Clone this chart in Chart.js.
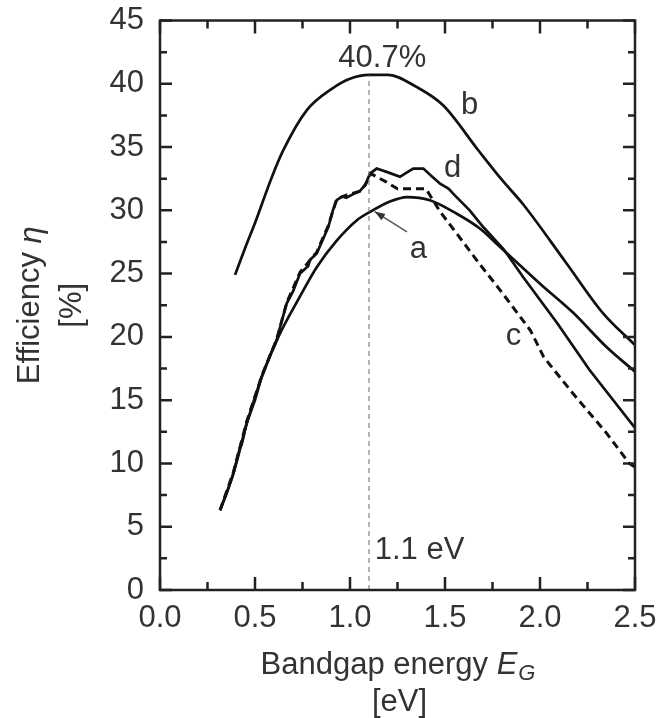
<!DOCTYPE html>
<html>
<head>
<meta charset="utf-8">
<script src="https://cdn.jsdelivr.net/npm/chart.js@4.4.1/dist/chart.umd.min.js"></script>
<style>
    html, body { margin: 0; padding: 0; background: #fff; }
    #wrap { width: 660px; height: 718px; }
</style>
</head>
<body>
<div id="wrap"><canvas id="chart"></canvas></div>
<script>
// Curve b: upper smooth curve, peak 40.7 % near 1.1 eV
const curveBX = [0.395, 0.45, 0.50, 0.588, 0.649, 0.772, 0.904, 1.00, 1.10, 1.20, 1.35, 1.49, 1.675, 1.80, 1.91, 2.14, 2.33, 2.50];
const curveBY = [24.9, 27.1, 29.0, 32.6, 34.75, 37.9, 39.6, 40.4, 40.7, 40.7, 39.75, 38.3, 34.75, 32.4, 30.5, 25.8, 21.9, 19.35];

// Curve a: lower smooth curve
const curveAX = [0.316, 0.386, 0.456, 0.535, 0.623, 0.737, 0.825, 0.93, 1.035, 1.12, 1.21, 1.30, 1.42, 1.56, 1.68, 1.79, 2.00, 2.175, 2.35, 2.50];
const curveAY = [6.3, 9.2, 13.1, 16.8, 20.0, 23.2, 25.5, 27.6, 29.2, 30.0, 30.7, 31.05, 30.8, 29.75, 28.6, 27.1, 24.2, 21.9, 19.2, 17.25];

// Curve d: jagged solid curve
const curveDX = [0.316, 0.35, 0.386, 0.42, 0.43, 0.456, 0.50, 0.535, 0.575, 0.614, 0.64, 0.667, 0.70, 0.737, 0.78, 0.79, 0.825, 0.86, 0.886, 0.91, 0.93, 0.96, 0.98, 1.02, 1.05, 1.08, 1.105, 1.14, 1.20, 1.263, 1.30, 1.333, 1.386, 1.43, 1.474, 1.52, 1.544, 1.63, 1.70, 1.81, 1.91, 2.09, 2.26, 2.50];
const curveDY = [6.3, 7.6, 9.2, 11.2, 11.5, 13.2, 15.0, 16.85, 18.4, 19.75, 21.2, 22.65, 23.6, 25.0, 25.6, 26.1, 26.6, 27.8, 28.7, 30.0, 30.8, 31.1, 31.0, 31.3, 31.5, 32.0, 32.9, 33.3, 33.0, 32.65, 33.0, 33.3, 33.3, 32.7, 32.1, 31.7, 31.3, 30.0, 28.7, 26.9, 24.75, 21.1, 17.4, 12.8];

// Curve c: dashed curve
const curveCX = [0.316, 0.386, 0.456, 0.535, 0.614, 0.667, 0.737, 0.825, 0.886, 0.93, 0.98, 1.05, 1.08, 1.11, 1.19, 1.25, 1.40, 1.474, 1.56, 1.68, 1.79, 1.91, 1.95, 2.02, 2.175, 2.35, 2.47, 2.50];
const curveCY = [6.3, 9.3, 13.3, 16.9, 19.8, 22.7, 25.1, 26.7, 28.8, 30.9, 31.2, 31.5, 32.0, 32.9, 32.25, 31.7, 31.7, 29.9, 28.2, 25.8, 23.7, 21.3, 20.5, 18.4, 15.5, 12.4, 10.0, 9.7];

// Vertical marker at 1.1 eV and the arrow pointing at curve a
const markerX = [1.1, 1.1];
const markerY = [0, 40.7];
const arrowX = [1.30, 1.13];
const arrowY = [28.3, 29.9];

// Axis ticks
const xMajorTicks = [0, 0.5, 1.0, 1.5, 2.0, 2.5];
const xMinorTicks = [0.25, 0.75, 1.25, 1.75, 2.25];
const yMajorTicks = [0, 5, 10, 15, 20, 25, 30, 35, 40, 45];
const yMinorTicks = [2.5, 7.5, 12.5, 17.5, 22.5, 27.5, 32.5, 37.5, 42.5];

// Text labels inside the plot (data coordinates)
const noteText = ['40.7%', 'b', 'd', 'a', 'c', '1.1 eV'];
const noteX = [1.17, 1.63, 1.54, 1.36, 1.86, 1.13];
const noteY = [42.0, 38.3, 33.3, 26.9, 20.0, 3.15];
const noteAlign = ['center', 'center', 'center', 'center', 'center', 'left'];

const FONT = '"Liberation Sans", Arial, Helvetica, sans-serif';
const TEXT_COLOR = '#333';
const LINE_COLOR = '#111';

const toPoints = (xs, ys) => xs.map((x, i) => ({ x: x, y: ys[i] }));

// Frame with inward ticks on all four sides, labels and axis titles.
const framePlugin = {
    id: 'frame',
    afterDatasetsDraw: function (chart) {
        const { ctx, chartArea: area, scales } = chart;
        const xs = scales.x;
        const ys = scales.y;
        ctx.save();
        ctx.strokeStyle = '#222';
        ctx.lineWidth = 2.5;
        ctx.strokeRect(area.left, area.top, area.right - area.left, area.bottom - area.top);

        const drawX = (vals, len) => {
            vals.forEach((v) => {
                const px = xs.getPixelForValue(v);
                ctx.beginPath();
                ctx.moveTo(px, area.bottom);
                ctx.lineTo(px, area.bottom - len);
                ctx.moveTo(px, area.top);
                ctx.lineTo(px, area.top + len);
                ctx.stroke();
            });
        };
        const drawY = (vals, len) => {
            vals.forEach((v) => {
                const py = ys.getPixelForValue(v);
                ctx.beginPath();
                ctx.moveTo(area.left, py);
                ctx.lineTo(area.left + len, py);
                ctx.moveTo(area.right, py);
                ctx.lineTo(area.right - len, py);
                ctx.stroke();
            });
        };
        drawX(xMajorTicks, 13);
        drawX(xMinorTicks, 8);
        drawY(yMajorTicks, 12);
        drawY(yMinorTicks, 7);

        // Arrowhead at the end of the arrow dataset
        const tipX = xs.getPixelForValue(arrowX[1]);
        const tipY = ys.getPixelForValue(arrowY[1]);
        const tailX = xs.getPixelForValue(arrowX[0]);
        const tailY = ys.getPixelForValue(arrowY[0]);
        const ang = Math.atan2(tipY - tailY, tipX - tailX);
        ctx.fillStyle = '#333';
        ctx.beginPath();
        ctx.moveTo(tipX, tipY);
        ctx.lineTo(tipX - 11 * Math.cos(ang - 0.35), tipY - 11 * Math.sin(ang - 0.35));
        ctx.lineTo(tipX - 11 * Math.cos(ang + 0.35), tipY - 11 * Math.sin(ang + 0.35));
        ctx.closePath();
        ctx.fill();

        // Labels inside the plot
        ctx.fillStyle = TEXT_COLOR;
        ctx.font = `31px ${FONT}`;
        ctx.textBaseline = 'middle';
        noteText.forEach((t, i) => {
            ctx.textAlign = noteAlign[i];
            ctx.fillText(t, xs.getPixelForValue(noteX[i]), ys.getPixelForValue(noteY[i]));
        });

        // Axis titles (mixed roman / italic, so drawn piecewise)
        const midX = (area.left + area.right) / 2;
        const midY = (area.top + area.bottom) / 2;
        const roman = `31px ${FONT}`;
        const italic = `italic 31px ${FONT}`;
        const sub = `italic 22px ${FONT}`;

        ctx.textAlign = 'left';
        ctx.textBaseline = 'middle';
        ctx.font = roman;
        const w1 = ctx.measureText('Bandgap energy ').width;
        ctx.font = italic;
        const w2 = ctx.measureText('E').width;
        ctx.font = sub;
        const w3 = ctx.measureText('G').width;
        let x0 = midX - (w1 + w2 + w3) / 2;
        const ty = 665;
        ctx.font = roman;
        ctx.fillText('Bandgap energy ', x0, ty);
        ctx.font = italic;
        ctx.fillText('E', x0 + w1, ty);
        ctx.font = sub;
        ctx.fillText('G', x0 + w1 + w2 + 1, ty + 9);
        ctx.font = roman;
        ctx.textAlign = 'center';
        ctx.fillText('[eV]', midX + 2, 702);

        ctx.save();
        ctx.translate(30, midY);
        ctx.rotate(-Math.PI / 2);
        ctx.textAlign = 'left';
        ctx.font = roman;
        const e1 = ctx.measureText('Efficiency ').width;
        ctx.font = italic;
        const e2 = ctx.measureText('\u03b7').width;
        x0 = -(e1 + e2) / 2;
        ctx.font = roman;
        ctx.fillText('Efficiency ', x0, 0);
        ctx.font = italic;
        ctx.fillText('\u03b7', x0 + e1, 2);
        ctx.restore();

        ctx.save();
        ctx.translate(72, midY);
        ctx.rotate(-Math.PI / 2);
        ctx.textAlign = 'center';
        ctx.font = roman;
        ctx.fillText('[%]', 0, 0);
        ctx.restore();

        ctx.restore();
    },
};

const ctx = document.getElementById('chart').getContext('2d');
new Chart(ctx, {
    type: 'line',
    data: {
        datasets: [
            {
                data: toPoints(markerX, markerY),
                borderColor: '#666',
                borderWidth: 1,
                borderDash: [5, 4],
                pointRadius: 0,
            },
            {
                data: toPoints(arrowX, arrowY),
                borderColor: '#555',
                borderWidth: 1.5,
                pointRadius: 0,
            },
            {
                data: toPoints(curveBX, curveBY),
                borderColor: LINE_COLOR,
                borderWidth: 2.7,
                pointRadius: 0,
                cubicInterpolationMode: 'monotone',
            },
            {
                data: toPoints(curveAX, curveAY),
                borderColor: LINE_COLOR,
                borderWidth: 2.7,
                pointRadius: 0,
                cubicInterpolationMode: 'monotone',
            },
            {
                data: toPoints(curveCX, curveCY),
                borderColor: LINE_COLOR,
                borderWidth: 3,
                borderDash: [8, 5],
                pointRadius: 0,
                tension: 0,
            },
            {
                data: toPoints(curveDX, curveDY),
                borderColor: LINE_COLOR,
                borderWidth: 2.7,
                pointRadius: 0,
                tension: 0,
            },
        ],
    },
    options: {
        responsive: true,
        maintainAspectRatio: false,
        animation: false,
        events: [],
        layout: { padding: { top: 20.5, right: 25, left: 0, bottom: 0 } },
        plugins: {
            legend: { display: false },
            tooltip: { enabled: false },
        },
        scales: {
            x: {
                type: 'linear',
                min: 0,
                max: 2.5,
                grid: { display: false, drawTicks: false },
                border: { display: false },
                ticks: {
                    stepSize: 0.5,
                    padding: 10,
                    color: TEXT_COLOR,
                    font: { family: FONT, size: 31 },
                    maxRotation: 0,
                    callback: (v) => v.toFixed(1),
                },
                afterFit: (scale) => {
                    scale.height = 128;
                    scale.paddingLeft = 0;
                    scale.paddingRight = 0;
                },
            },
            y: {
                min: 0,
                max: 45,
                grid: { display: false, drawTicks: false },
                border: { display: false },
                ticks: {
                    stepSize: 5,
                    padding: 16,
                    color: TEXT_COLOR,
                    font: { family: FONT, size: 31 },
                },
                afterFit: (scale) => {
                    scale.width = 160;
                    scale.paddingTop = 0;
                    scale.paddingBottom = 0;
                },
            },
        },
    },
    plugins: [framePlugin],
});
</script>
</body>
</html>
